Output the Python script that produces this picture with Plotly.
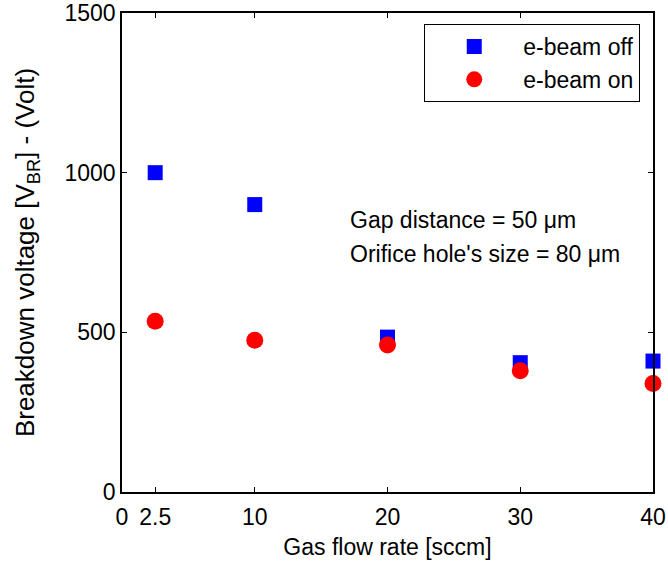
import plotly.graph_objects as go

flow_rate = [2.5, 10, 20, 30, 40]
vbr_off = [1000, 900, 485, 405, 410]
vbr_on = [535, 475, 460, 380, 340]
x_ticks = [0, 2.5, 10, 20, 30, 40]
x_ticklabels = ["0", "2.5", "10", "20", "30", "40"]
y_ticks = [0, 500, 1000, 1500]

FONT = "Liberation Sans, Arial, sans-serif"
FS = 23

fig = go.Figure()
fig.add_trace(go.Scatter(
    x=flow_rate, y=vbr_off, mode="markers", name="e-beam off", cliponaxis=False,
    marker=dict(symbol="square", size=15, color="#0000ff", line=dict(width=0)),
))
fig.add_trace(go.Scatter(
    x=flow_rate, y=vbr_on, mode="markers", name="e-beam on", cliponaxis=False,
    marker=dict(symbol="circle", size=17, color="#ff0000", line=dict(width=0)),
))

axis_common = dict(
    showline=True, linecolor="black", linewidth=1.5, mirror="ticks",
    ticks="inside", ticklen=5, tickcolor="black", tickwidth=1,
    showgrid=False, zeroline=False, automargin=False,
    tickfont=dict(family=FONT, size=FS, color="black"),
)

fig.update_xaxes(
    range=[0, 40], tickvals=x_ticks, ticktext=x_ticklabels, ticklabelstandoff=4,
    title=dict(text="Gas flow rate [sccm]", font=dict(family=FONT, size=FS, color="black"), standoff=10),
    **axis_common,
)
fig.update_yaxes(
    range=[0, 1500], tickvals=y_ticks,
    title=dict(text="Breakdown voltage [V<sub>BR</sub>] - (Volt)", font=dict(family=FONT, size=26, color="black"), standoff=22),
    **axis_common,
)

fig.add_annotation(xref="paper", yref="paper", x=0.4256, y=0.568, xanchor="left", yanchor="middle",
                   text="Gap distance = 50 \u03bcm", showarrow=False,
                   font=dict(family=FONT, size=FS, color="black"))
fig.add_annotation(xref="paper", yref="paper", x=0.4256, y=0.497, xanchor="left", yanchor="middle",
                   text="Orifice hole's size = 80 \u03bcm", showarrow=False,
                   font=dict(family=FONT, size=FS, color="black"))

fig.update_layout(
    width=668, height=562,
    margin=dict(l=122, r=15, t=13, b=70),
    paper_bgcolor="white", plot_bgcolor="white",
    font=dict(family=FONT, size=FS, color="black"),
    showlegend=True,
    legend=dict(
        x=0.976, y=0.977, xanchor="right", yanchor="top",
        bordercolor="black", borderwidth=1, bgcolor="white",
        itemwidth=88, font=dict(family=FONT, size=FS, color="black"),
        tracegroupgap=0,
    ),
)

fig.write_html("out.html")
